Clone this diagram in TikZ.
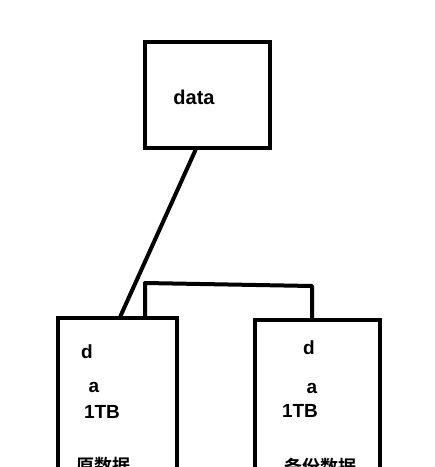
\documentclass[tikz,border=0pt]{standalone}
\usepackage{fontspec}
\setmainfont{Liberation Sans}
\newfontfamily\cjk{Noto Sans CJK SC Bold}
\usetikzlibrary{calc}
\begin{document}
\begin{tikzpicture}[x=1pt,y=-1pt,
  box/.style={draw=black,line width=4pt,fill=white,inner sep=0pt},
  lbl/.style={font=\fontsize{19}{19}\selectfont\bfseries,inner sep=0pt},
  clbl/.style={font=\fontsize{18}{18}\selectfont\cjk,inner sep=0pt,anchor=west},
  wire/.style={line width=4pt,line cap=round,line join=round}]
\useasboundingbox (0,0) rectangle (435,467);
\clip (0,0) rectangle (435,467);
\fill[white] (0,0) rectangle (435,467);
\node[box,minimum width=125pt,minimum height=106pt] (data) at (207.5,95) {};
\node[lbl,font=\fontsize{20}{20}\selectfont\bfseries] (datat) at (194,97) {data};
\node[box,minimum width=119pt,minimum height=182pt] (left) at (117.5,409) {};
\node[box,minimum width=125pt,minimum height=180pt] (right) at (317.5,410) {};
\draw[wire] ($(data.south)+(-12,0)$) -- ($(left.north)+(3,0)$);
\coordinate (b1) at ($(left.north)+(27.5,-33)$);
\coordinate (b2) at ($(right.north)+(-5.5,-32)$);
\draw[wire] ($(left.north)+(27.5,0)$) -- (b1) -- (b2) -- ($(right.north)+(-5.5,0)$);
\node[lbl] (ld) at (87,352) {d};
\node[lbl] (la) at (94,387) {a};
\node[lbl] (ltb) at (102,412) {1TB};
\node[clbl] (lcn) at (76,466) {原数据};
\node[lbl] (rd) at (309,348) {d};
\node[lbl] (ra) at (312,388) {a};
\node[lbl] (rtb) at (300,411) {1TB};
\node[clbl] (rcn) at (284,467) {备份数据};
\end{tikzpicture}
\end{document}
